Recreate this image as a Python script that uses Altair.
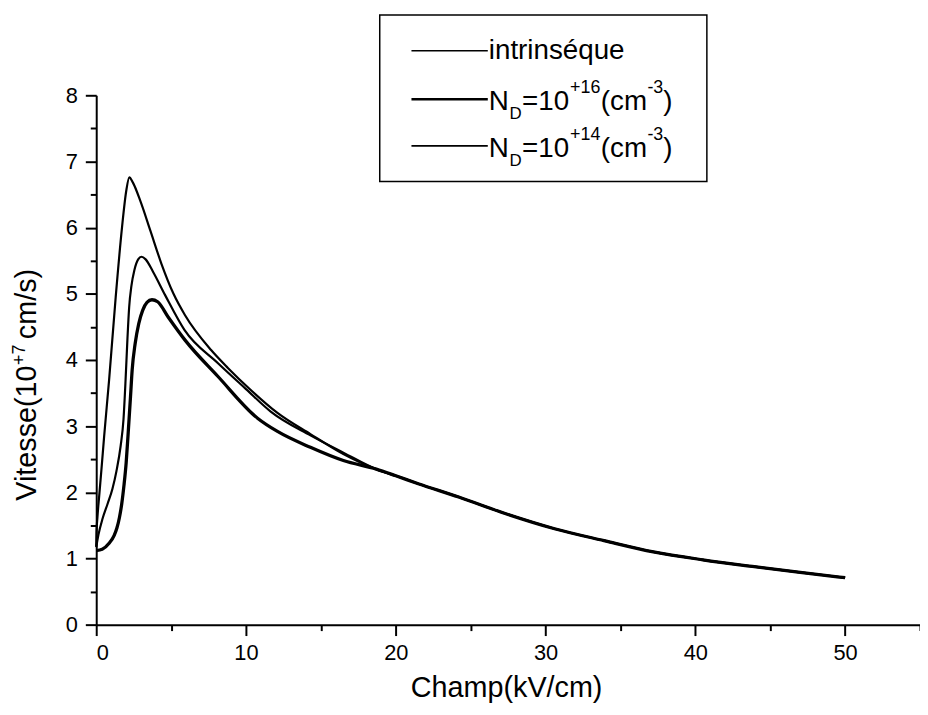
import altair as alt
import pandas as pd

FONT = "Liberation Sans"

# ---- data ----
series_names = ["intrinsèque", "ND=1e16", "ND=1e14"]
series_widths = [2.2, 3.3, 2.2]

intr_x = [0, 0.02, 0.08, 0.2, 0.35, 0.53, 0.86, 1.3, 1.72, 2.0, 2.21, 2.45, 2.95, 3.62,
          4.36, 5.16, 5.92, 7.67, 8.79, 10.3, 12.1, 14.3, 16.5]
intr_y = [1.18, 1.4, 1.62, 1.95, 2.35, 2.85, 3.7, 4.95, 6.0, 6.55, 6.76, 6.68, 6.4, 5.95,
          5.45, 5.0, 4.68, 4.15, 3.88, 3.55, 3.2, 2.88, 2.58]

nd14_x = [0, 0.15, 0.42, 0.75, 1.08, 1.35, 1.63, 1.82, 1.96, 2.08, 2.2, 2.35, 2.55, 2.8,
          3.02, 3.3, 3.8, 4.6, 5.9, 8.13, 10.0, 11.65, 14.3, 16.5]
nd14_y = [1.17, 1.36, 1.6, 1.82, 2.05, 2.32, 2.7, 3.1, 3.7, 4.3, 4.8, 5.12, 5.36, 5.52,
          5.56, 5.52, 5.33, 4.98, 4.45, 3.95, 3.56, 3.22, 2.86, 2.6]

nd16_x = [0, 0.4, 0.86, 1.2, 1.38, 1.55, 1.7, 1.85, 2.0, 2.12, 2.29, 2.4, 2.6, 2.84, 3.1,
          3.39, 3.72, 4.1, 4.8, 5.93, 8.13, 10.77, 12.1, 14.3, 16.5]
nd16_y = [1.12, 1.14, 1.23, 1.35, 1.46, 1.62, 1.82, 2.1, 2.45, 2.85, 3.45, 3.85, 4.25,
          4.55, 4.75, 4.87, 4.91, 4.88, 4.65, 4.3, 3.75, 3.12, 2.92, 2.68, 2.48]

tail_x = [18.7, 20, 21.5, 24.2, 27.3, 30.6, 33.9, 37.2, 40.5, 43.8, 47, 50]
tail_y = [2.35, 2.25, 2.13, 1.93, 1.68, 1.45, 1.27, 1.10, 0.98, 0.88, 0.79, 0.71]

x_major = [0, 10, 20, 30, 40, 50]
x_minor = [5, 15, 25, 35, 45, 55]
y_major = [0, 1, 2, 3, 4, 5, 6, 7, 8]
y_minor = [0.5, 1.5, 2.5, 3.5, 4.5, 5.5, 6.5, 7.5]

series_data = {
    series_names[0]: (intr_x, intr_y),
    series_names[1]: (nd16_x, nd16_y),
    series_names[2]: (nd14_x, nd14_y),
}

xscale = alt.Scale(domain=[0, 55], nice=False, zero=False)
yscale = alt.Scale(domain=[0, 8], nice=False)

axis_common = dict(grid=False, title=None, domainColor="black", tickColor="black",
                   labelColor="black", labelFont=FONT, domainWidth=2, tickWidth=2)

line_layers = []
for i, (name, width) in enumerate(zip(series_names, series_widths)):
    xs, ys = series_data[name]
    d = pd.DataFrame({"x": xs + tail_x, "y": ys + tail_y, "series": name})
    if i == 0:
        xenc = alt.X("x:Q", scale=xscale,
                     axis=alt.Axis(values=x_major, tickSize=11, labelFontSize=22,
                                   labelPadding=7, orient="bottom", **axis_common))
        yenc = alt.Y("y:Q", scale=yscale,
                     axis=alt.Axis(values=y_major, tickSize=11, labelFontSize=22,
                                   labelPadding=8, orient="left", **axis_common))
    else:
        xenc = alt.X("x:Q", scale=xscale, axis=None)
        yenc = alt.Y("y:Q", scale=yscale, axis=None)
    line_layers.append(
        alt.Chart(d).mark_line(interpolate="monotone", color="black", strokeWidth=width)
        .encode(x=xenc, y=yenc)
    )

n = max(len(x_minor), len(y_minor))
minor_df = pd.DataFrame({"mx": (x_minor + [0] * n)[:n], "my": (y_minor + [0] * n)[:n]})
minor = alt.Chart(minor_df).mark_point(opacity=0).encode(
    x=alt.X("mx:Q", scale=xscale,
            axis=alt.Axis(values=x_minor, tickSize=6, labels=False, domain=False,
                          orient="bottom", grid=False, title=None, tickColor="black",
                          tickWidth=2)),
    y=alt.Y("my:Q", scale=yscale,
            axis=alt.Axis(values=y_minor, tickSize=6, labels=False, domain=False,
                          orient="left", grid=False, title=None, tickColor="black",
                          tickWidth=2)),
)

one = pd.DataFrame({"a": [0]})


def txt(s, x, y, size, angle=0, align="left"):
    kw = dict(text=s, fontSize=size, font=FONT, align=align, baseline="alphabetic",
              color="black")
    if angle:
        kw["angle"] = angle
    return alt.Chart(one).mark_text(**kw).encode(x=alt.value(x), y=alt.value(y))


def rule(x1, x2, y, w):
    return alt.Chart(one).mark_rule(color="black", strokeWidth=w).encode(
        x=alt.value(x1), x2=alt.value(x2), y=alt.value(y))


layers = line_layers + [minor]

# legend box
layers.append(alt.Chart(one).mark_rect(fillOpacity=0, stroke="black", strokeWidth=1.5).encode(
    x=alt.value(286), x2=alt.value(616), y=alt.value(-81), y2=alt.value(87)))
layers += [rule(318, 395, -45, 1.6), rule(318, 395, 4, 2.6), rule(318, 395, 51, 1.6)]
layers.append(txt("intrinséque", 396, -37, 28))
for base, sup in [(15, "+16"), (62, "+14")]:
    layers += [
        txt("N", 396, base, 28),
        txt("D", 417, base + 9, 17),
        txt("=10", 429.5, base, 28),
        txt(sup, 478, base - 17, 18),
        txt("(cm", 509, base, 28),
        txt("-3", 556, base - 17, 18),
        txt(")", 572, base, 28),
    ]

# axis titles
layers.append(txt("Champ(kV/cm)", 414, 607, 29, align="center"))
layers += [
    txt("Vitesse(10", -61, 409, 29, angle=270),
    txt("+7", -72, 272, 18, angle=270),
    txt("cm/s)", -61, 246, 29, angle=270),
]

chart = alt.layer(*layers).resolve_axis(x="independent", y="independent").properties(
    width=831, height=534,
    autosize=alt.AutoSizeParams(type="none"),
    padding={"left": 89, "top": 85, "right": 0, "bottom": 78},
).configure_view(stroke=None)

chart.save("out.html", embed_options={"renderer": "svg", "actions": False})
